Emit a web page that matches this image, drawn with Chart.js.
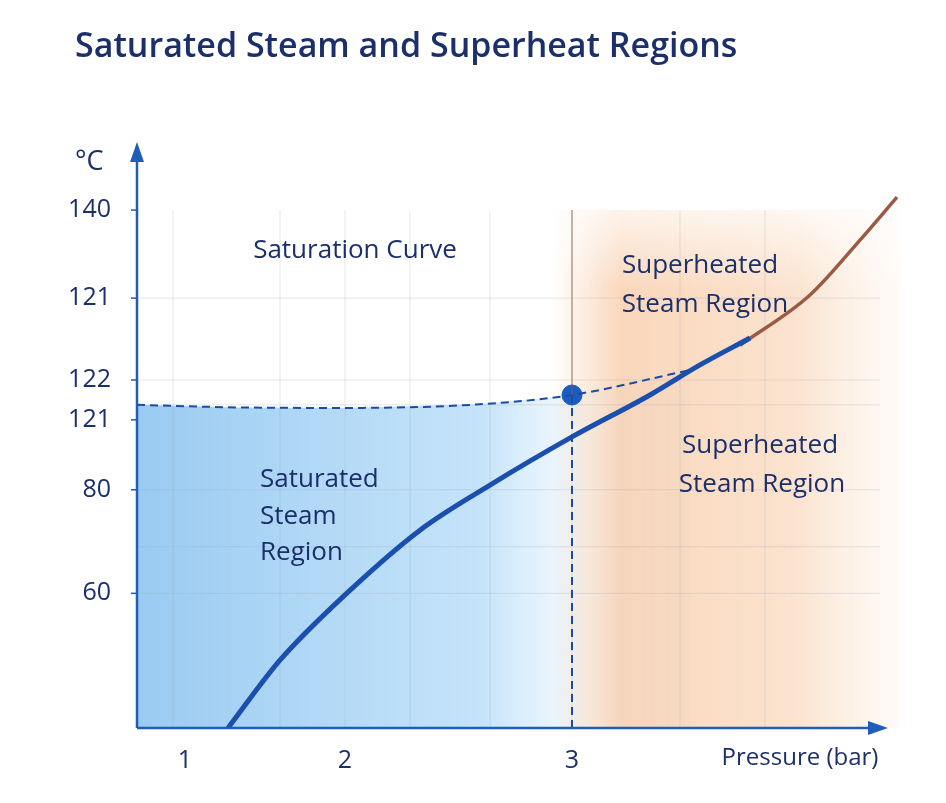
<!DOCTYPE html>
<html><head><meta charset="utf-8">
<script src="https://cdn.jsdelivr.net/npm/chart.js@4.4.0/dist/chart.umd.min.js"></script>
<style>html,body{margin:0;background:#fff}#w{width:946px;height:803px;position:relative}</style>
</head><body><div id="w"><canvas id="c"></canvas></div>
<script>
// Internal axis positions (chart units) and their printed labels
const yTickPos = [100, 83, 67.2, 59.5, 46, 26];
const yTickLabels = ['140', '121', '122', '121', '80', '60'];
const xTickPos = [0.48, 2.08, 4.35];
const xTickLabels = ['1', '2', '3'];
const gridX = [0.36, 1.43, 2.08, 2.73, 3.53, 4.35, 5.43, 6.28];
const gridY = [83, 67.2, 62.4, 46, 35, 26];
// Saturation curve (solid), upper segment, saturated dashed line
const satCurve = [{x:0.91,y:0},{x:1.43,y:13.1},{x:2.08,y:25.7},{x:2.83,y:38.2},{x:3.53,y:46.9},{x:4.35,y:56.2},{x:5.13,y:64.3},{x:5.63,y:70.1},{x:6.13,y:75.3}];
const upperCurve = [{x:6.03,y:73.9},{x:6.73,y:83.6},{x:7.23,y:94.2},{x:7.6,y:102.5}];
const dashedLine = [{x:0,y:62.4},{x:1.0,y:61.9},{x:2.08,y:61.8},{x:3.43,y:62.5},{x:4.35,y:64.3},{x:5.53,y:69.1}];
const marker = [{x:4.35,y:64.3}];
const vDash = [{x:4.35,y:0},{x:4.35,y:64.3}];
const vLine = [{x:4.35,y:64.3},{x:4.35,y:100}];
const splitX = 4.35;

const navy = '#1b2f6b', blue = '#1f5db8';
const FONT = '"Open Sans", sans-serif';
const bg = {id:'bg', beforeDatasetsDraw(ch){
  const {ctx, chartArea:a, scales:{x,y}} = ch;
  ctx.save();
  ctx.beginPath();
  ctx.moveTo(x.getPixelForValue(0), y.getPixelForValue(0));
  dashedLine.forEach(p=>ctx.lineTo(x.getPixelForValue(p.x), y.getPixelForValue(p.y)));
  ctx.lineTo(x.getPixelForValue(5.53), y.getPixelForValue(0));
  ctx.closePath();
  let g = ctx.createLinearGradient(a.left,0,x.getPixelForValue(4.6),0);
  g.addColorStop(0,'rgba(110,180,235,0.7)'); g.addColorStop(0.75,'rgba(150,205,245,0.55)'); g.addColorStop(1,'rgba(190,225,250,0.1)');
  ctx.fillStyle=g; ctx.fill();
  const x0 = x.getPixelForValue(splitX-0.2), top=y.getPixelForValue(100);
  let g2 = ctx.createLinearGradient(x0,0,a.right+20,0);
  g2.addColorStop(0,'rgba(245,175,120,0)'); g2.addColorStop(0.2,'rgba(245,175,120,0.5)'); g2.addColorStop(0.7,'rgba(245,185,135,0.4)'); g2.addColorStop(1,'rgba(250,210,175,0.1)');
  ctx.fillStyle=g2; ctx.fillRect(x0, top, a.right+20-x0, a.bottom-top);
  let g3 = ctx.createLinearGradient(0,top,0,top+80);
  g3.addColorStop(0,'rgba(255,255,255,0.7)'); g3.addColorStop(1,'rgba(255,255,255,0)');
  ctx.fillStyle=g3; ctx.fillRect(x0, top, a.right+20-x0, 80);
  ctx.strokeStyle='rgba(150,160,175,0.25)'; ctx.lineWidth=1;
  gridX.forEach(v=>{const p=x.getPixelForValue(v);ctx.beginPath();ctx.moveTo(p,y.getPixelForValue(100));ctx.lineTo(p,a.bottom);ctx.stroke();});
  gridY.forEach(v=>{const p=y.getPixelForValue(v);ctx.beginPath();ctx.moveTo(a.left,p);ctx.lineTo(a.right,p);ctx.stroke();});
  ctx.restore();
}, afterDraw(ch){
  const {ctx, chartArea:a, scales:{x,y}} = ch;
  ctx.save();
  ctx.strokeStyle=blue; ctx.fillStyle=blue; ctx.lineWidth=2.5;
  ctx.beginPath(); ctx.moveTo(a.left,a.bottom); ctx.lineTo(a.left,a.top+5); ctx.stroke();
  ctx.beginPath(); ctx.moveTo(a.left-7,a.top+12); ctx.lineTo(a.left,a.top-8); ctx.lineTo(a.left+7,a.top+12); ctx.fill();
  ctx.beginPath(); ctx.moveTo(a.left,a.bottom); ctx.lineTo(a.right-5,a.bottom); ctx.stroke();
  ctx.beginPath(); ctx.moveTo(a.right-12,a.bottom-7); ctx.lineTo(a.right+8,a.bottom); ctx.lineTo(a.right-12,a.bottom+7); ctx.fill();
  ctx.lineWidth=1.5;
  yTickPos.forEach(v=>{const p=y.getPixelForValue(v);ctx.beginPath();ctx.moveTo(a.left-6,p);ctx.lineTo(a.left,p);ctx.stroke();});
  ctx.fillStyle=navy; ctx.textBaseline='middle';
  ctx.font='600 34px '+FONT; ctx.textAlign='left';
  ctx.fillText('Saturated Steam and Superheat Regions', 75, 47);
  ctx.font='27px '+FONT;
  ctx.fillText('°C', 75, 162);
  ctx.font='500 26px '+FONT; ctx.textAlign='center';
  ctx.fillText('Saturation Curve', 355, 251);
  ctx.fillText('Superheated', 700, 266); ctx.fillText('Steam Region', 705, 305);
  ctx.fillText('Superheated', 760, 446); ctx.fillText('Steam Region', 762, 485);
  ctx.textAlign='left';
  ctx.fillText('Saturated', 260, 480); ctx.fillText('Steam', 260, 517); ctx.fillText('Region', 260, 553);
  ctx.font='24px '+FONT; ctx.textAlign='center';
  ctx.fillText('Pressure (bar)', 800, 758);
  ctx.restore();
}};

new Chart(document.getElementById('c'), {
  type:'scatter',
  data:{datasets:[
    {data:vLine, showLine:true, borderColor:'rgba(150,90,60,0.7)', borderWidth:1.2, pointRadius:0},
    {data:vDash, showLine:true, borderColor:'#1a4da0', borderDash:[8,5], borderWidth:2, pointRadius:0},
    {data:dashedLine, showLine:true, borderColor:'#1a4da0', borderDash:[8,5], borderWidth:2, pointRadius:0, cubicInterpolationMode:'monotone'},
    {data:satCurve, showLine:true, borderColor:'#1a4fae', borderWidth:5, pointRadius:0, cubicInterpolationMode:'monotone'},
    {data:upperCurve, showLine:true, borderColor:'#9a5a44', borderWidth:3.5, pointRadius:0, cubicInterpolationMode:'monotone', clip:false},
    {data:marker, pointRadius:10, backgroundColor:'#1a5cc0', borderColor:'#1a5cc0'}
  ]},
  options:{
    responsive:true, maintainAspectRatio:false, animation:false,
    layout:{padding:{top:150,right:66,left:0,bottom:0}},
    plugins:{legend:{display:false},tooltip:{enabled:false}},
    scales:{
      x:{type:'linear', min:0, max:7.43, grid:{display:false}, border:{display:false},
        afterFit(s){s.height=75;},
        afterBuildTicks(s){s.ticks=xTickPos.map(v=>({value:v}));},
        ticks:{padding:10, color:navy, font:{size:25, family:FONT}, autoSkip:false,
          callback:(v)=>xTickLabels[xTickPos.indexOf(v)]}},
      y:{type:'linear', min:0, max:111.6, grid:{display:false}, border:{display:false},
        afterFit(s){s.width=137;},
        afterBuildTicks(s){s.ticks=yTickPos.map(v=>({value:v}));},
        ticks:{padding:18, color:navy, font:{size:25, family:FONT}, autoSkip:false,
          callback:(v)=>yTickLabels[yTickPos.indexOf(v)]}}
    }
  },
  plugins:[bg]
});
</script></body></html>
